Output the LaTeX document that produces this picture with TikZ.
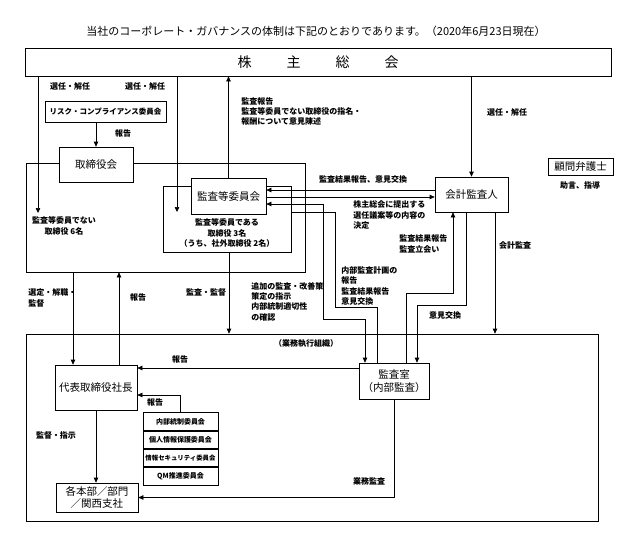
\documentclass[tikz,border=0pt]{standalone}
\usepackage{fontspec}
\setmainfont{Noto Sans CJK JP}
\usetikzlibrary{arrows.meta,positioning}

\begin{document}
\begin{tikzpicture}[x=1pt,y=-1pt,>={Triangle[length=5pt,width=4.5pt]},line width=0.7pt,
                    box/.style={draw,fill=white,inner sep=0pt,align=center,
                                font=\fontsize{10.5}{13}\selectfont},
                    frame/.style={draw,inner sep=0pt},
                    lbl/.style={inner sep=0pt,font=\bfseries\fontsize{8}{10.3}\selectfont},
                    cbox/.style={draw,fill=white,inner sep=0pt,minimum width=75pt,minimum height=17.5pt,
                                 font=\bfseries\fontsize{7}{8}\selectfont}]
  \useasboundingbox (0,0) rectangle (633,536);

  \node at (316,31) {\fontsize{11}{13}\selectfont 当社のコーポレート・ガバナンスの体制は下記のとおりであります。（2020年6月23日現在）};

  % containers
  \node[frame,minimum width=279pt,minimum height=109pt] (bd)    at (165.5,217.5) {};
  \node[frame,minimum width=128pt,minimum height=66pt]  (inner) at (227,219) {};
  \node[frame,minimum width=572pt,minimum height=187pt] (gyomu) at (312,427.5) {};

  % boxes
  \node[box,minimum width=586pt,minimum height=28pt] (kabu)   at (318,62)
        {\fontsize{14}{16}\selectfont 株\hspace{35pt}主\hspace{35pt}総\hspace{35pt}会};
  \node[box,minimum width=121pt,minimum height=21pt,font=\bfseries\fontsize{7.5}{9}\selectfont]
        (risk) at (105.5,111.5) {リスク・コンプライアンス委員会};
  \node[box,minimum width=74pt,minimum height=35pt]  (tori)   at (96,164.5)  {取締役会};
  \node[box,minimum width=75pt,minimum height=36pt]  (kansa)  at (228.5,196) {監査等委員会};
  \node[box,minimum width=73pt,minimum height=35pt]  (kaikei) at (471.5,194.5) {会計監査人};
  \node[box,minimum width=65pt,minimum height=17pt]  (komon)  at (580.5,166.5) {顧問弁護士};
  \node[box,minimum width=82pt,minimum height=45pt]  (daihyo) at (96,387.5) {代表取締役社長};
  \node[box,minimum width=70pt,minimum height=36pt]  (shitsu) at (394,381) {監査室\\（内部監査）};
  \node[box,minimum width=82pt,minimum height=29pt,font=\fontsize{10.5}{11.5}\selectfont]
        (honbu) at (97,497.5) {各本部／部門\\／関西支社};

  \node[cbox] (c1) at (180.5,421.5) {内部統制委員会};
  \node[cbox] (c2) [below=0pt of c1] {個人情報保護委員会};
  \node[cbox,font=\bfseries\fontsize{6.4}{8}\selectfont] (c3) [below=0pt of c2] {情報セキュリティ委員会};
  \node[cbox] (c4) [below=0pt of c3] {QM推進委員会};

  \coordinate (d6) at (38,213);
  \coordinate (d3) at (177,212);

  % connectors
  \draw[->] (kabu.south -| d6) -- (d6);
  \draw[->] (kabu.south -| d3) -- (d3);
  \draw[->] (tori.north |- risk.south) -- (tori.north);
  \draw[->] (kansa.north) -- (kansa.north |- kabu.south);
  \draw[->] (kabu.south -| kaikei.north) -- (kaikei.north);
  \draw[->] (kaikei.west |- 0,190) -- (kansa.east |- 0,190);
  \draw[->] (kansa.east |- 0,197) -- (kaikei.west |- 0,197);
  \draw[<->] (kansa.east |- 0,204) -| (323,319) -| (shitsu.north -| 365,0);
  \draw (inner.east |- 0,212) -| (335,307) -| (shitsu.north -| 377,0);
  \draw[->] (shitsu.north -| 406,0) |- (453,293) -- (kaikei.south -| 453,0);
  \draw[->] (kaikei.south -| 466,0) |- (417,305) -- (shitsu.north -| 417,0);
  \draw[->] (kaikei.south -| 495,0) -- (gyomu.north -| 495,0);
  \draw[->] (inner.south -| 229,0) -- (gyomu.north -| 229,0);
  \draw[->] (bd.south -| 73,0) -- (daihyo.north -| 73,0);
  \draw[->] (daihyo.north -| 119,0) -- (bd.south -| 119,0);
  \draw[->] (shitsu.west |- 0,368) -- (daihyo.east |- 0,368);
  \draw[->] (c1.north) |- (daihyo.east |- 0,395);
  \draw[->] (daihyo.south) -- (daihyo.south |- honbu.north);
  \draw[->] (shitsu.south) |- (honbu.east);

  % labels
  \node[lbl] (l1) at (70,86) {選任・解任};
  \node[lbl] (l2) at (145,86) {選任・解任};
  \node[lbl] (l3) at (123,133) {報告};
  \node[lbl,align=left,anchor=west] (l4) at (241,111.5)
        {監査報告\\監査等委員でない取締役の指名・\\報酬について意見陳述};
  \node[lbl] (l5) at (507,112) {選任・解任};
  \node[lbl] (l6) at (363,179) {監査結果報告、意見交換};
  \node[lbl,align=left,anchor=west] (l7) at (353,215)
        {株主総会に提出する\\選任議案等の内容の\\決定};
  \node[lbl] (l8) at (580,185) {助言、指導};
  \node[lbl,align=center] (l9) at (64,226) {監査等委員でない\\取締役\ 6名};
  \node[lbl,align=center] (l10) at (227,233) {監査等委員である\\取締役\ 3名\\（うち、社外取締役\ 2名）};
  \node[lbl,align=left,anchor=west] (l11) at (399,244) {監査結果報告\\監査立会い};
  \node[lbl] (l12) at (515,245) {会計監査};
  \node[lbl,align=left,anchor=west] (l13) at (341,286) {内部監査計画の\\報告\\監査結果報告\\意見交換};
  \node[lbl,align=left,anchor=west] (l14) at (251,301.5) {追加の監査・改善策\\策定の指示\\内部統制適切性\\の確認};
  \node[lbl,align=left,anchor=west] (l15) at (28,298) {選定・解職・\\監督};
  \node[lbl] (l16) at (138,297) {報告};
  \node[lbl] (l17) at (206,292) {監査・監督};
  \node[lbl] (l18) at (445,315) {意見交換};
  \node[lbl] (l19) at (306,344) {（業務執行組織）};
  \node[lbl] (l20) at (180,359) {報告};
  \node[lbl] (l21) at (155,402) {報告};
  \node[lbl] (l22) at (56,435) {監督・指示};
  \node[lbl] (l23) at (369,481) {業務監査};
\end{tikzpicture}
\end{document}
